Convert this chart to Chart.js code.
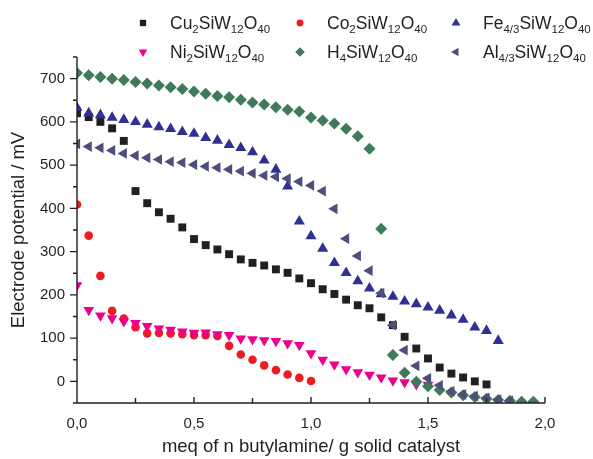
<!DOCTYPE html>
<html lang="en">
<head>
    <meta charset="UTF-8">
    <title>Electrode potential titration</title>
    <script src="https://cdn.jsdelivr.net/npm/chart.js"></script>
    <style>
        html, body {
            margin: 0;
            padding: 0;
            background: #fff;
        }
        #chartContainer {
            width: 593px;
            height: 459px;
        }
    </style>
</head>
<body>
    <div id="chartContainer">
        <canvas id="potentialChart"></canvas>
    </div>

    <script>
        // meq of n-butylamine added per g of catalyst (shared x steps)
        const meq = [0, 0.05, 0.1, 0.15, 0.2, 0.25, 0.3, 0.35, 0.4, 0.45,
                     0.5, 0.55, 0.6, 0.65, 0.7, 0.75, 0.8, 0.85, 0.9, 0.95,
                     1.0, 1.05, 1.1, 1.15, 1.2, 1.25, 1.3, 1.35, 1.4, 1.45,
                     1.5, 1.55, 1.6, 1.65, 1.7, 1.75, 1.8, 1.85, 1.9, 1.95];

        // electrode potential (mV), one value per meq step starting at 0
        const cuValues = [620, 611, 600, 585, 556, 440, 412, 391, 376, 356,
                          329, 315, 305, 294, 282, 274, 268, 259, 251, 238,
                          227, 213, 202, 189, 176, 169, 148, 130, 103, 76,
                          53, 32, 18, 9, 0, -7];
        const coValues = [409, 337, 244, 163, 145, 125, 111, 112, 111, 109,
                          107, 107, 105, 82, 62, 50, 37, 26, 16, 8, 1];
        const feValues = [633, 620, 616, 610, 605, 600, 594, 588, 584, 577,
                          573, 563, 557, 547, 540, 530, 511, 490, 451, 370,
                          336, 307, 274, 251, 232, 215, 202, 196, 185, 179,
                          171, 164, 153, 143, 125, 117, 94];
        const niValues = [222, 165, 152, 146, 139, 135, 128, 122, 119, 115,
                          112, 113, 109, 107, 99, 97, 95, 93, 88, 84,
                          65, 50, 39, 28, 21, 15, 9, 2, -2, -7, -8];
        const hValues = [713, 708, 704, 700, 697, 692, 689, 684, 680, 676,
                         670, 665, 660, 657, 651, 645, 640, 634, 628, 624,
                         610, 603, 596, 584, 567, 538, 353, 61, 20, -1,
                         -11, -20, -26, -32, -36, -40, -43, -45, -47, -47];
        const alValues = [549, 543, 540, 534, 527, 522, 517, 513, 508, 506,
                          501, 497, 494, 490, 486, 481, 476, 473, 469, 462,
                          453, 440, 399, 330, 290, 256, 204, 130, 72, 36,
                          7, -9, -23, -30, -34, -38, -42, -45];

        // names use _{...} for subscripts
        const seriesNames = ['Cu_{2}SiW_{12}O_{40}', 'Co_{2}SiW_{12}O_{40}', 'Fe_{4/3}SiW_{12}O_{40}',
                             'Ni_{2}SiW_{12}O_{40}', 'H_{4}SiW_{12}O_{40}', 'Al_{4/3}SiW_{12}O_{40}'];
        const seriesValues = [cuValues, coValues, feValues, niValues, hValues, alValues];

        const styles = [
            { color: '#231f20', pointStyle: 'rect', radius: 5.6, rotation: 0 },
            { color: '#ed1c24', pointStyle: 'circle', radius: 4.3, rotation: 0 },
            { color: '#2e3192', pointStyle: 'triangle', radius: 6.4, rotation: 0 },
            { color: '#ec008c', pointStyle: 'triangle', radius: 6.2, rotation: 180 },
            { color: '#3f7a5a', pointStyle: 'rectRot', radius: 6, rotation: 0 },
            { color: '#4e4e7c', pointStyle: 'triangle', radius: 6.2, rotation: 270 }
        ];

        const axisColor = '#231f20';
        const fontFamily = "'Liberation Sans', Arial, sans-serif";

        function fmtComma(v) {
            return v.toFixed(1).replace('.', ',');
        }

        // Origin-like axes: left + bottom lines, major/minor ticks
        const axesPlugin = {
            id: 'axesPlugin',
            afterDraw(chart) {
                const { ctx, chartArea: a, scales: { x, y } } = chart;
                ctx.save();
                ctx.strokeStyle = axisColor;
                ctx.lineWidth = 1.4;
                ctx.beginPath();
                ctx.moveTo(a.left, a.top);
                ctx.lineTo(a.left, a.bottom);
                ctx.lineTo(a.right, a.bottom);
                for (let v = -50; v <= 750; v += 50) {
                    const py = y.getPixelForValue(v);
                    const len = v % 100 === 0 ? 7 : 4;
                    ctx.moveTo(a.left, py);
                    ctx.lineTo(a.left - len, py);
                }
                for (let i = 0; i <= 8; i++) {
                    const px = x.getPixelForValue(i * 0.25);
                    const len = i % 2 === 0 ? 6 : 5;
                    ctx.moveTo(px, a.bottom);
                    ctx.lineTo(px, a.bottom - len);
                }
                ctx.stroke();
                ctx.restore();
            }
        };

        // two-row legend with subscripted formulas
        const legendPlugin = {
            id: 'formulaLegend',
            afterDraw(chart) {
                const ctx = chart.ctx;
                const markerX = [143, 300, 456];
                const textX = [170, 327, 483];
                const rowY = [24, 53];
                const mainSize = 17.5, subSize = 11.5;
                ctx.save();
                chart.data.datasets.forEach((ds, i) => {
                    const col = i % 3, row = Math.floor(i / 3);
                    const st = styles[i];
                    ctx.fillStyle = st.color;
                    ctx.strokeStyle = st.color;
                    ctx.lineWidth = 0;
                    Chart.helpers.drawPoint(ctx, {
                        pointStyle: st.pointStyle,
                        radius: st.radius * 0.8,
                        rotation: st.rotation,
                        borderWidth: 0
                    }, markerX[col], rowY[row] - 1);

                    let cx = textX[col];
                    const baseY = rowY[row] + 5;
                    ctx.fillStyle = '#231f20';
                    ctx.textBaseline = 'alphabetic';
                    ctx.textAlign = 'left';
                    seriesNames[i].split(/(_\{[^}]*\})/).forEach(part => {
                        if (!part) return;
                        if (part.startsWith('_{')) {
                            const t = part.slice(2, -1);
                            ctx.font = subSize + 'px ' + fontFamily;
                            ctx.fillText(t, cx, baseY + 4);
                            cx += ctx.measureText(t).width;
                        } else {
                            ctx.font = mainSize + 'px ' + fontFamily;
                            ctx.fillText(part, cx, baseY);
                            cx += ctx.measureText(part).width;
                        }
                    });
                });
                ctx.restore();
            }
        };

        const datasets = seriesValues.map((vals, i) => ({
            label: seriesNames[i].replace(/[_{}]/g, ''),
            data: vals.map((v, k) => ({ x: meq[k], y: v })),
            showLine: false,
            backgroundColor: styles[i].color,
            borderColor: styles[i].color,
            borderWidth: 0,
            pointStyle: styles[i].pointStyle,
            pointRadius: styles[i].radius,
            pointRotation: styles[i].rotation,
            // later series drawn on top
            order: seriesValues.length - i
        }));

        const ctx = document.getElementById('potentialChart').getContext('2d');
        new Chart(ctx, {
            type: 'scatter',
            data: { datasets: datasets },
            options: {
                responsive: true,
                maintainAspectRatio: false,
                animation: false,
                layout: { padding: { left: 0, right: 48, top: 57, bottom: 0 } },
                plugins: {
                    legend: { display: false },
                    tooltip: { enabled: false }
                },
                scales: {
                    x: {
                        type: 'linear',
                        min: 0,
                        max: 2,
                        grid: { display: false },
                        border: { display: false },
                        afterFit: s => { s.height = 56; },
                        ticks: {
                            stepSize: 0.5,
                            padding: 4,
                            color: '#231f20',
                            font: { family: fontFamily, size: 15 },
                            callback: v => fmtComma(v)
                        },
                        title: {
                            display: true,
                            text: 'meq of n butylamine/ g solid catalyst',
                            color: '#231f20',
                            font: { family: fontFamily, size: 18.5 },
                            padding: { top: 0, bottom: 1 }
                        }
                    },
                    y: {
                        min: -50,
                        max: 750,
                        grid: { display: false },
                        border: { display: false },
                        afterFit: s => { s.width = 77; },
                        ticks: {
                            stepSize: 50,
                            autoSkip: false,
                            padding: 4,
                            color: '#231f20',
                            font: { family: fontFamily, size: 15 },
                            callback: v => (v % 100 === 0 ? String(v) : '')
                        },
                        title: {
                            display: true,
                            text: 'Electrode potential / mV',
                            color: '#231f20',
                            font: { family: fontFamily, size: 18.5 },
                            padding: { top: 8, bottom: 0 }
                        }
                    }
                }
            },
            plugins: [axesPlugin, legendPlugin]
        });
    </script>
</body>
</html>
